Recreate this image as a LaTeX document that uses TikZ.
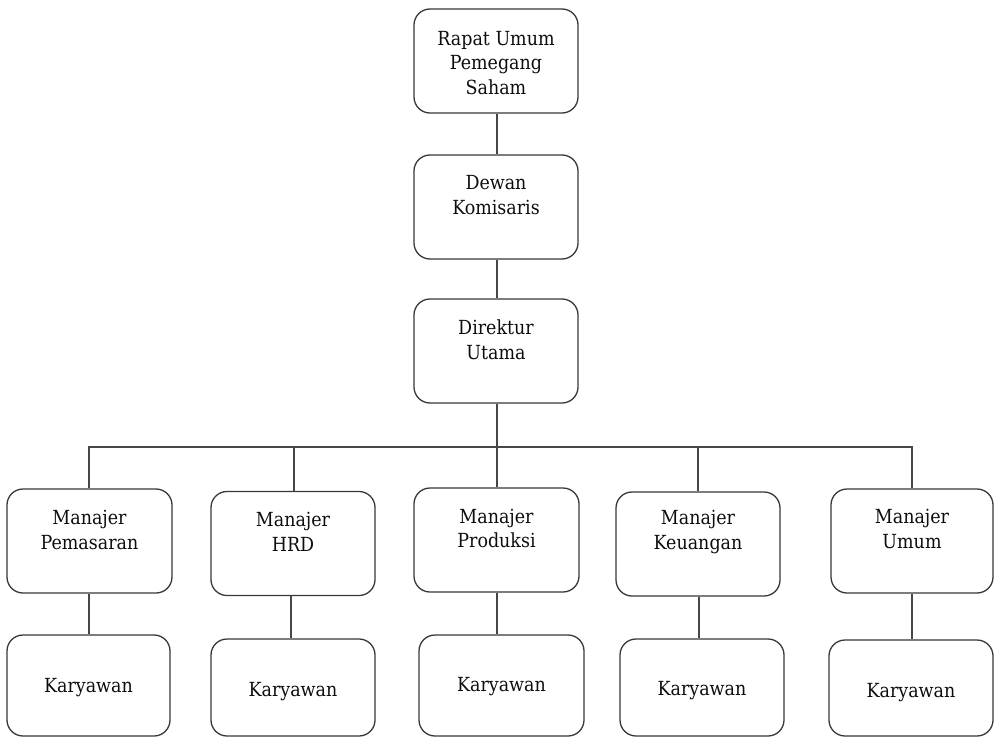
\documentclass[tikz,border=0pt]{standalone}
\usepackage{fontspec}
\setmainfont{DejaVu Serif Condensed}
\begin{document}
\begin{tikzpicture}[x=1bp,y=-1bp,
  box/.style={draw=black!78, line width=1.3bp, rounded corners=16bp, minimum width=164bp, minimum height=104bp, inner sep=0pt},
  txt/.style={align=center, font=\fontsize{19.5}{25}\selectfont, text=black!95, inner sep=0pt},
  conn/.style={draw=black!72, line width=1.3bp}]
\useasboundingbox (0,0) rectangle (994,738);
% top chain
\node[box] (rups) at (496,61) {};
\node[txt] (rupst) at (496,63) {Rapat Umum\\Pemegang\\Saham};
\node[box] (dk) at (496,207) {};
\node[txt] (dkt) at (496,195.5) {Dewan\\Komisaris};
\node[box] (du) at (496,351) {};
\node[txt] (dut) at (496,339.5) {Direktur\\Utama};
% managers
\node[box, minimum width=165bp] (m1) at (89.5,541) {};
\node[txt] (m1t) at (89.5,530) {Manajer\\Pemasaran};
\node[box] (m2) at (293,543.5) {};
\node[txt] (m2t) at (293,531.5) {Manajer\\HRD};
\node[box, minimum width=165bp] (m3) at (496.5,540) {};
\node[txt] (m3t) at (496.5,528.5) {Manajer\\Produksi};
\node[box] (m4) at (698,544) {};
\node[txt] (m4t) at (698,532) {Manajer\\Keuangan};
\node[box, minimum width=162bp] (m5) at (912,541) {};
\node[txt] (m5t) at (912,529) {Manajer\\Umum};
% employees
\node[box, minimum width=163bp, minimum height=101bp] (k1) at (88.5,685.5) {};
\node[txt] (k1t) at (88.5,688) {Karyawan};
\node[box, minimum height=97bp] (k2) at (293,687.5) {};
\node[txt] (k2t) at (293,692) {Karyawan};
\node[box, minimum width=165bp, minimum height=101bp] (k3) at (501.5,685.5) {};
\node[txt] (k3t) at (501.5,687) {Karyawan};
\node[box, minimum height=97bp] (k4) at (702,687.5) {};
\node[txt] (k4t) at (702,691) {Karyawan};
\node[box, minimum height=96bp] (k5) at (911,688) {};
\node[txt] (k5t) at (911,693) {Karyawan};
% connectors
\coordinate (bus) at (497,447);
\draw[conn] (rups.south -| bus) -- (dk.north -| bus);
\draw[conn] (dk.south -| bus) -- (du.north -| bus);
\draw[conn] (du.south -| bus) -- (bus);
\coordinate (b1) at (89,447);
\coordinate (b2) at (294,447);
\coordinate (b4) at (698,447);
\coordinate (b5) at (912,447);
\draw[conn] (m1.north -| b1) -- (b1) -- (b5) -- (m5.north -| b5);
\draw[conn] (b2) -- (m2.north -| b2);
\draw[conn] (bus) -- (m3.north -| bus);
\draw[conn] (b4) -- (m4.north -| b4);
\coordinate (c1) at (89,0);
\coordinate (c2) at (291,0);
\coordinate (c3) at (497,0);
\coordinate (c4) at (699,0);
\coordinate (c5) at (912,0);
\draw[conn] (m1.south -| c1) -- (k1.north -| c1);
\draw[conn] (m2.south -| c2) -- (k2.north -| c2);
\draw[conn] (m3.south -| c3) -- (k3.north -| c3);
\draw[conn] (m4.south -| c4) -- (k4.north -| c4);
\draw[conn] (m5.south -| c5) -- (k5.north -| c5);
\end{tikzpicture}
\end{document}
